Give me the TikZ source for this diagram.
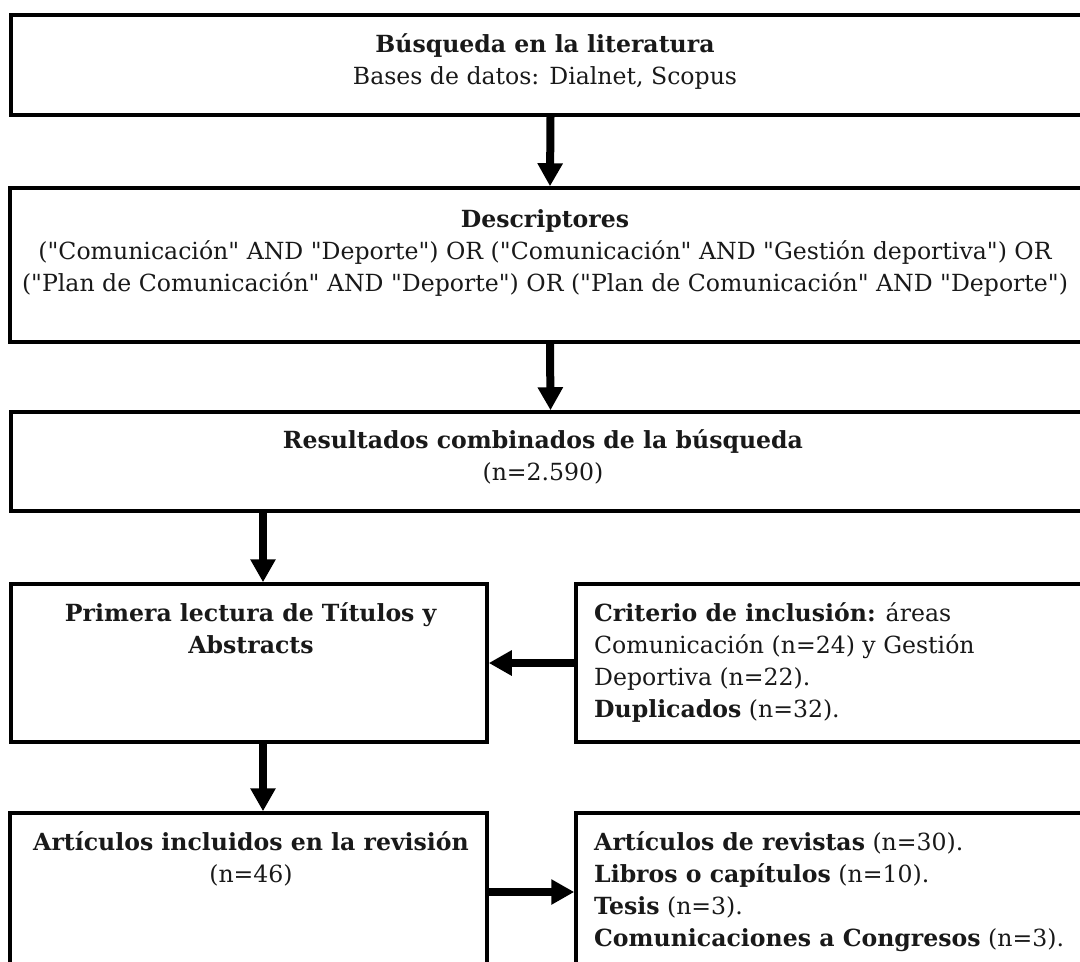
\documentclass[tikz,border=0pt]{standalone}
\usepackage{fontspec}
\setmainfont{DejaVu Serif}[Ligatures=TeXOff]
\usetikzlibrary{arrows.meta}
\newlength\reflen
\AtBeginDocument{%
  \settowidth\reflen{\fontsize{10pt}{12pt}\selectfont ("Plan de Comunicación" AND "Deporte") OR ("Plan de Comunicación" AND "Deporte")}%
  \pgfmathsetmacro\fs{10*1046/\reflen}%
  \xdef\fs{\fs}}
\begin{document}
\begin{tikzpicture}[x=1pt,y=-1pt,
  box/.style={draw=black, line width=3.5pt, inner sep=0pt, rectangle},
  txt/.style={inner sep=0pt, text=black!90, font=\fontsize{\fs pt}{32pt}\selectfont},
  arr/.style={draw=black, line width=8pt, -{Triangle[length=23pt,width=24pt]}}]
\clip (0,0) rectangle (1080,962);
% boxes
\node[box, minimum width=1079pt, minimum height=100pt] (b1) at (550.5,65) {};
\node[box, minimum width=1080pt, minimum height=154pt] (b2) at (550,265) {};
\node[box, minimum width=1079pt, minimum height=99pt] (b3) at (550.5,461.5) {};
\node[box, minimum width=476pt, minimum height=158pt] (b4) at (249,663) {};
\node[box, minimum width=514pt, minimum height=158pt] (b5) at (833,663) {};
\node[box, minimum width=477pt, minimum height=158pt] (b6) at (248.5,892) {};
\node[box, minimum width=514pt, minimum height=158pt] (b7) at (833,892) {};
% texts
\node[txt, anchor=base] (t1) at (545,52) {\begin{tabular}[t]{@{}c@{}}\textbf{Búsqueda en la literatura}\\ Bases de datos: Dialnet, Scopus\end{tabular}};
\node[txt, anchor=base] (t2) at (545,227) {\begin{tabular}[t]{@{}c@{}}\textbf{Descriptores}\\ ("Comunicación" AND "Deporte") OR ("Comunicación" AND "Gestión deportiva") OR\\ ("Plan de Comunicación" AND "Deporte") OR ("Plan de Comunicación" AND "Deporte")\end{tabular}};
\node[txt, anchor=base] (t3) at (543,448) {\begin{tabular}[t]{@{}c@{}}\textbf{Resultados combinados de la búsqueda}\\ (n=2.590)\end{tabular}};
\node[txt, anchor=base] (t4) at (251,621) {\begin{tabular}[t]{@{}c@{}}\textbf{Primera lectura de Títulos y}\\ \textbf{Abstracts}\end{tabular}};
\node[txt, anchor=base west] (t5) at (594,621) {\begin{tabular}[t]{@{}l@{}}\textbf{Criterio de inclusión:} áreas\\ Comunicación (n=24) y Gestión\\ Deportiva (n=22).\\ \textbf{Duplicados} (n=32).\end{tabular}};
\node[txt, anchor=base] (t6) at (251,850) {\begin{tabular}[t]{@{}c@{}}\textbf{Artículos incluidos en la revisión}\\ (n=46)\end{tabular}};
\node[txt, anchor=base west] (t7) at (594,850) {\begin{tabular}[t]{@{}l@{}}\textbf{Artículos de revistas} (n=30).\\ \textbf{Libros o capítulos} (n=10).\\ \textbf{Tesis} (n=3).\\ \textbf{Comunicaciones a Congresos} (n=3).\end{tabular}};
% arrows
\draw[arr] (b1.south) -- (b2.north);
\draw[arr] (b2.south) -- (b3.north);
\draw[arr] ([xshift=14pt]b4.north |- b3.south) -- ([xshift=14pt]b4.north);
\draw[arr] ([xshift=14pt]b4.south) -- ([xshift=14pt]b4.south |- b6.north);
\draw[arr] (b5.west) -- (b4.east);
\draw[arr] (b6.east) -- (b7.west);
\end{tikzpicture}
\end{document}
